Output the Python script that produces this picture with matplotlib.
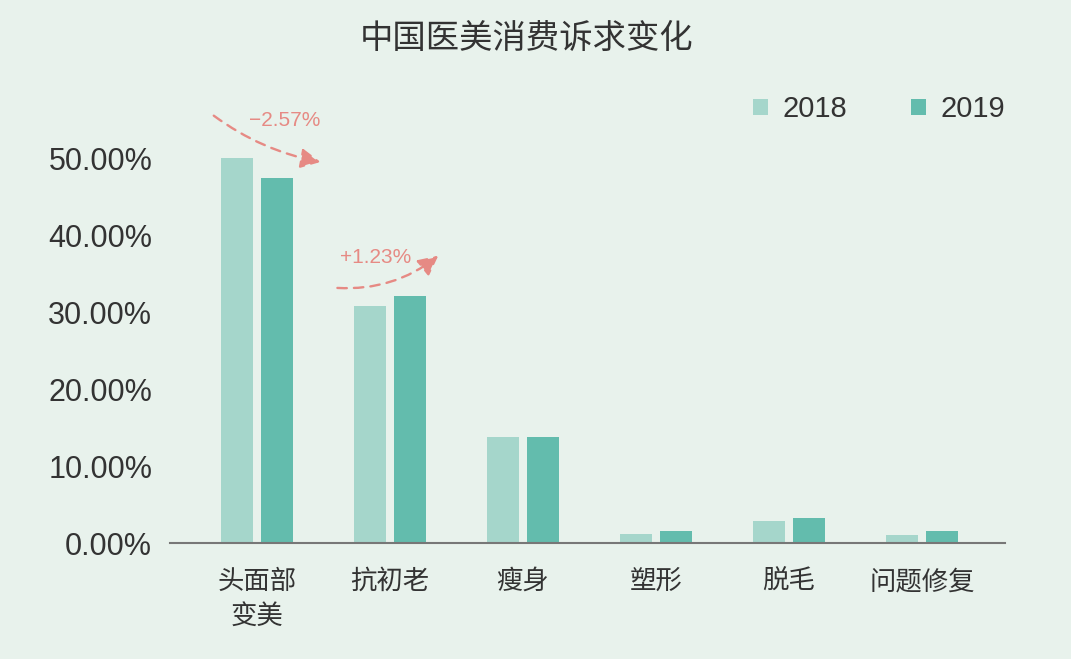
import matplotlib.pyplot as plt
import numpy as np

plt.rcParams['font.family'] = ['Liberation Sans', 'Noto Sans CJK SC', 'DejaVu Sans']

# data
categories = ["头面部\n变美", "抗初老", "瘦身", "塑形", "脱毛", "问题修复"]
share2018 = [50.10, 30.85, 13.8, 1.2, 2.9, 1.0]
share2019 = [47.53, 32.08, 13.8, 1.6, 3.3, 1.6]
yticks = [0, 10, 20, 30, 40, 50]

bg = "#e8f2ec"
c2018 = "#a5d6cb"
c2019 = "#63bcad"
red = "#e68a84"
txt = "#333333"
cjk = ['Noto Sans CJK SC', 'DejaVu Sans']

fig = plt.figure(figsize=(10.71, 6.59), dpi=100, facecolor=bg)
ax = fig.add_axes([0.159, 0.176, 0.779, 0.70], facecolor=bg)

x = np.arange(len(categories))
w = 0.24
ax.bar(x - 0.15, share2018, w, color=c2018, label="2018")
ax.bar(x + 0.15, share2019, w, color=c2019, label="2019")

ax.set_xlim(-0.65, 5.62)
ax.set_ylim(0, 60)
ax.set_yticks(yticks)
ax.set_yticklabels([f"{v:.2f}%" for v in yticks], fontsize=22, color=txt)
ax.set_xticks(x)
ax.set_xticklabels(categories, fontsize=19, color=txt, linespacing=1.35, family=cjk)
ax.tick_params(axis='x', length=0, pad=18)
ax.tick_params(axis='y', length=0, pad=13)
for s in ["top", "right", "left"]:
    ax.spines[s].set_visible(False)
ax.spines["bottom"].set_color("#777777")
ax.spines["bottom"].set_linewidth(1.5)

# change arrows
head = "-|>,head_length=1.2,head_width=0.6"
ax.annotate("", xy=(0.5, 49.5), xytext=(-0.34, 55.8),
            arrowprops=dict(arrowstyle=head, linestyle=(0, (4, 3)), color=red, lw=1.7,
                            connectionstyle="arc3,rad=0.12"))
ax.text(0.21, 55.0, "−2.57%", color=red, fontsize=15, ha="center", va="center")
ax.annotate("", xy=(1.38, 37.6), xytext=(0.585, 33.2),
            arrowprops=dict(arrowstyle=head, linestyle=(0, (4, 3)), color=red, lw=1.7,
                            connectionstyle="arc3,rad=0.2"))
ax.text(0.89, 37.2, "+1.23%", color=red, fontsize=15, ha="center", va="center")

leg = ax.legend(loc="center right", bbox_to_anchor=(0.963, 0.834), bbox_transform=fig.transFigure,
                ncol=2, frameon=False, fontsize=21, handlelength=0.5, handleheight=0.5,
                handletextpad=0.5, columnspacing=2.2)
for t in leg.get_texts():
    t.set_color(txt)

fig.text(0.492, 0.942, "中国医美消费诉求变化", fontsize=24, color=txt, ha="center", va="center",
         family=cjk)

fig.savefig("out.png", dpi=100, facecolor=bg)
